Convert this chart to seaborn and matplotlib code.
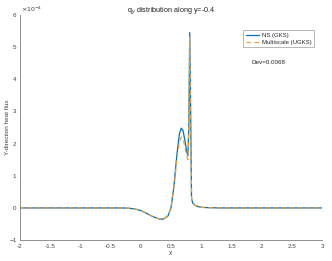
import matplotlib
matplotlib.use("Agg")
import matplotlib.pyplot as plt
import seaborn as sns
import pandas as pd
import numpy as np

sns.set_style("white")
plt.rcParams['font.family'] = ['Liberation Sans', 'DejaVu Sans']

# data (y in units of 1e-4)
x_ns = [-2.0, -0.5, -0.3, -0.2, -0.1, 0.0, 0.1, 0.2, 0.3, 0.37, 0.45, 0.5, 0.55,
        0.6, 0.64, 0.67, 0.7, 0.73, 0.76, 0.78, 0.795, 0.81, 0.825, 0.84, 0.86,
        0.9, 0.95, 1.0, 1.1, 1.3, 3.0]
y_ns = [0.0, 0.0, 0.0, -0.01, -0.03, -0.08, -0.17, -0.27, -0.34, -0.35, -0.25,
        0.0, 0.7, 1.7, 2.3, 2.48, 2.4, 2.1, 1.75, 1.62, 2.5, 5.45, 3.0, 0.3,
        0.15, 0.08, 0.04, 0.02, 0.01, 0.0, 0.0]
x_ms = [-2.0, -0.5, -0.3, -0.2, -0.1, 0.0, 0.1, 0.2, 0.3, 0.37, 0.45, 0.5, 0.55,
        0.6, 0.64, 0.67, 0.7, 0.73, 0.76, 0.78, 0.795, 0.81, 0.825, 0.84, 0.86,
        0.9, 0.95, 1.0, 1.1, 1.3, 3.0]
y_ms = [0.0, 0.0, 0.0, -0.01, -0.03, -0.08, -0.17, -0.27, -0.34, -0.35, -0.25,
        0.0, 0.65, 1.55, 2.05, 2.2, 2.15, 1.9, 1.6, 1.5, 2.4, 5.3, 2.9, 0.3,
        0.15, 0.08, 0.04, 0.02, 0.01, 0.0, 0.0]
label_ns = "NS (GKS)"
label_ms = "Multiscale (UGKS)"
x_ticks = [-2, -1.5, -1, -0.5, 0, 0.5, 1, 1.5, 2, 2.5, 3]
x_tick_labels = ["-2", "-1.5", "-1", "-0.5", "0", "0.5", "1", "1.5", "2", "2.5", "3"]
y_ticks = [-1, 0, 1, 2, 3, 4, 5, 6]

df_ns = pd.DataFrame({"x": x_ns, "y": y_ns})
df_ms = pd.DataFrame({"x": x_ms, "y": y_ms})

fig = plt.figure(figsize=(3.32, 2.61), dpi=100)
ax = fig.add_axes([0.060, 0.080, 0.910, 0.863])

sns.lineplot(data=df_ns, x="x", y="y", ax=ax, color="#0072BD", lw=0.9,
             label=label_ns, sort=False)
sns.lineplot(data=df_ms, x="x", y="y", ax=ax, color="#EDA030", lw=0.9,
             linestyle=(0, (3.5, 3)), label=label_ms, sort=False)

ax.set_xlim(-2, 3)
ax.set_ylim(-1, 6)
ax.set_xticks(x_ticks)
ax.set_xticklabels(x_tick_labels)
ax.set_yticks(y_ticks)
ax.tick_params(direction="in", length=2.5, width=0.5, labelsize=4.5,
               colors="#404040", pad=2.5)
for side in ["top", "right"]:
    ax.spines[side].set_visible(False)
for side in ["left", "bottom"]:
    ax.spines[side].set_color("#808080")
    ax.spines[side].set_linewidth(0.6)

ax.set_xlabel("x", fontsize=4.8, color="#404040", labelpad=1)
ax.set_ylabel("Y-direction heat flux", fontsize=4.6, color="#404040")
ax.yaxis.set_label_coords(-0.033, 0.5)
ax.set_title(r"q$_y$ distribution along y=-0.4", fontsize=5.2, color="#202020", pad=1.5)
ax.text(0.005, 1.005, r"$\times10^{-4}$", transform=ax.transAxes, fontsize=4.5,
        color="#404040", ha="left", va="bottom")
ax.text(0.768, 0.787, "Dev=0.0068", transform=ax.transAxes, fontsize=4.5,
        color="#202020", ha="left", va="center")

leg = ax.legend(loc="upper right", bbox_to_anchor=(0.983, 0.945), fontsize=4.3,
                frameon=True, fancybox=False, handlelength=2.2, borderpad=0.4,
                labelspacing=0.3, handletextpad=0.5)
leg.get_frame().set_edgecolor("#808080")
leg.get_frame().set_linewidth(0.5)

fig.savefig("out.png", dpi=100)
